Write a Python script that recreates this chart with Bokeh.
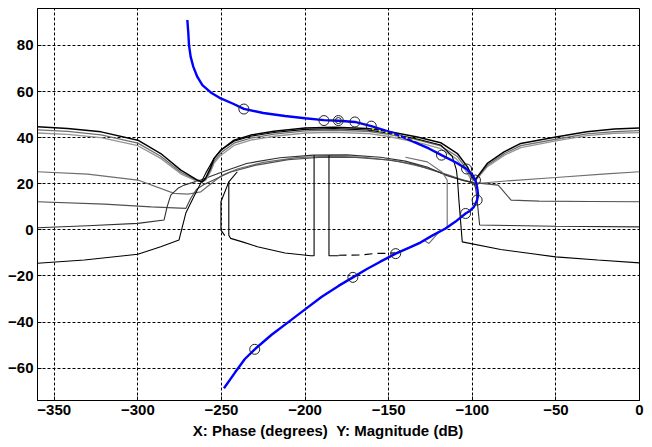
from bokeh.plotting import figure
from bokeh.embed import file_html
from bokeh.resources import INLINE
from bokeh.models import FixedTicker

# ---------------- data (phase deg, magnitude dB) ----------------
x_ticks = [-350, -300, -250, -200, -150, -100, -50, 0]
y_ticks = [-60, -40, -20, 0, 20, 40, 60, 80]

# nominal loop L0 (blue)
loop_phase = [-270.4, -269.8, -269.4, -268.4, -266.8, -264.4, -261.4, -256.4, -250.4, -243.0,
              -236.6, -225.0, -212.0, -200.0, -188.8, -180.0, -170.2, -160.4, -146.6, -135.0,
              -126.0, -118.4, -110.0, -103.4, -100.0, -98.1, -97.0, -96.5, -97.1, -99.0,
              -101.5, -104.0, -110.0, -116.0, -124.0, -131.0, -138.0, -145.8, -155.0, -163.0,
              -171.4, -180.0, -190.0, -200.0, -210.0, -220.0, -230.1, -236.0, -242.0, -248.5]
loop_mag = [91.0, 85.2, 80.1, 75.0, 70.7, 66.3, 62.8, 59.6, 57.0, 54.7,
            52.5, 50.7, 49.4, 48.4, 47.6, 47.3, 46.8, 45.0, 41.8, 38.2,
            35.3, 32.4, 29.3, 26.4, 24.0, 21.6, 18.0, 15.0, 12.9, 10.0,
            8.2, 7.1, 3.6, 0.6, -2.5, -5.5, -7.8, -10.3, -13.8, -17.0,
            -20.6, -24.3, -29.0, -34.5, -40.0, -45.5, -51.8, -56.0, -62.0, -68.7]

# design frequency points on L0 (open circles)
pt_phase = [-236.6, -188.7, -180.1, -180.1, -170.2, -160.4, -118.4, -103.4, -98.1, -97.1, -104.0, -145.8, -171.4, -230.1]
pt_mag = [52.4, 47.4, 47.4, 47.4, 46.8, 45.0, 32.4, 26.4, 21.6, 12.9, 7.1, -10.3, -20.6, -51.8]
pt_size = [10, 10, 10, 6, 10, 10, 10, 10, 10, 10, 10, 10, 10, 10]

# QFT bounds
bA1_phase = [-360, -342, -322, -300, -286.3, -274.3, -264.4, -261.5, -259.4, -256.5, -254.4, -250.3,
             -242.5, -232.5, -218.6, -200, -182.7, -162.7, -150.8, -132.9, -118.9, -108.9, -102.9,
             -100, -98.5, -97, -91, -81, -71, -50, -31.5, -15, 0]
bA1_mag = [44.7, 44.0, 42.5, 38.9, 33.1, 25.9, 21.6, 20.8, 22.5, 27.0, 31.0, 34.6,
           38.9, 41.1, 42.8, 44.2, 44.5, 44.0, 42.8, 40.3, 37.8, 33.1, 27.3,
           23.0, 21.5, 23.0, 28.8, 33.8, 37.5, 40.3, 42.5, 43.7, 44.2]

bA2_phase = [-360, -342, -322, -300, -286.3, -274.3, -264.4, -261.5, -259.4, -256.5, -254.4, -250.3,
             -242.5, -232.5, -218.6, -200, -182.7, -162.7, -150.8, -132.9, -118.9, -108.9, -103.5,
             -100.5, -98.5, -97, -91, -81, -71, -50, -31.5, -15, 0]
bA2_mag = [43.4, 42.7, 41.2, 37.6, 31.9, 25.0, 21.3, 20.8, 22.0, 26.0, 29.8, 33.4,
           37.6, 39.8, 41.5, 42.9, 43.2, 42.7, 41.5, 39.0, 36.4, 31.8, 26.6,
           22.6, 21.3, 22.6, 28.0, 33.0, 36.5, 39.3, 41.6, 42.6, 43.0]

bA3_phase = [-360, -342, -322, -300, -286.3, -274.3, -264.4, -261.5, -259.4, -256.5, -254.4, -250.3,
             -242.5, -232.5, -218.6, -200, -182.7, -162.7, -150.8, -132.9, -118.9, -109.5, -104,
             -101, -98.5, -97, -91, -81, -71, -50, -31.5, -15, 0]
bA3_mag = [42.0, 41.4, 40.0, 36.5, 31.0, 24.3, 21.0, 20.8, 21.6, 25.2, 29.0, 32.4,
           36.6, 38.9, 40.6, 42.0, 42.3, 41.8, 40.6, 38.0, 35.2, 30.8, 25.8,
           22.2, 21.2, 22.2, 27.4, 32.3, 35.7, 38.6, 40.9, 41.9, 42.2]

bE_phase = [-360, -332, -300, -286.3, -275.4, -271.3, -266.6, -259.4, -254.4, -250.3, -242.5, -232.5,
            -218.6, -200, -182.7, -162.7, -150.8, -132.9, -118.9, -112, -109.5, -108.8, -108, -106,
            -83, -50.2, -25, 0]
bE_mag = [-14.5, -13.1, -10.6, -7.3, -4.4, 7.3, 14.3, 24.6, 31.0, 34.6, 38.4, 40.6,
          42.2, 43.6, 43.9, 43.3, 42.0, 39.4, 36.8, 32.0, 26.0, 21.6, 12.9, -5.2,
          -8.5, -11.7, -13.1, -14.3]

bB_phase = [-360, -330, -300, -278.3, -270, -262.3, -258, -250, -240, -225, -205, -185, -165, -145,
            -128, -115, -105, -99, -80, -50, -20, 0]
bB_mag = [25.2, 24.2, 21.6, 15.8, 15.5, 16.5, 19.0, 23.5, 26.5, 29.3, 31.3, 32.0, 31.5, 29.8,
          27.0, 24.0, 21.5, 20.0, 21.2, 22.7, 24.3, 25.2]

bC_phase = [-360, -320, -292, -271.3, -268.5, -265, -261, -255, -245, -230, -210, -190, -170, -150,
            -135, -120, -108, -99, -84.5, -76.8, -60, -30, 0]
bC_mag = [12.2, 11.2, 10.0, 9.3, 13.5, 17.5, 19.5, 21.5, 25.0, 28.0, 30.5, 31.5, 31.4, 30.3,
          28.5, 25.0, 22.0, 20.5, 19.4, 12.9, 12.5, 12.3, 12.2]

bD_phase = [-360, -330, -300, -284.3, -282.5, -280.3, -276, -272.4, -262.4, -250, -235, -215, -195,
            -175, -155, -140, -127, -115, -105, -99, -98, -97.1, -95.6, -50, 0]
bD_mag = [0.9, 1.8, 2.8, 4.3, 10.0, 15.1, 18.0, 19.4, 21.6, 25.0, 28.8, 31.3, 32.4,
          32.5, 31.5, 29.8, 27.3, 23.5, 21.3, 20.5, 18.0, 12.9, 2.1, 1.6, 1.3]

# inner bound pieces
bF1_phase = [-240.5, -245.6, -245.6, -244.5, -237.5, -228.5, -212, -196.6, -194.6, -194.6]
bF1_mag = [25.2, 20.8, -2.3, -3.7, -5.2, -7.3, -10.0, -11.2, -11.2, 32.4]
bF2_phase = [-185.7, -185.7, -180.0]
bF2_mag = [32.4, -11.2, -11.2]
bF3_phase = [-180.0, -166.8, -157.8, -152.8, -146.0]
bF3_mag = [-11.0, -10.9, -10.2, -10.2, -10.0]
bF4_phase = [-146.0, -137.0, -129.0, -125.9, -120.0, -115.0, -115.0, -118.0, -126.9, -140.0]
bF4_mag = [-10.0, -7.5, -4.5, -5.9, -1.0, 1.3, 21.6, 25.0, 29.5, 31.5]
bF5_phase = [-248.0, -250.3, -250.3, -245.6]
bF5_mag = [-2.5, -0.1, 12.2, 20.8]

# yellow highlight segments
yl_phase = [-160.0, -150.0, -140.0, -128.0]
yl_mag = [43.8, 42.0, 40.0, 37.5]

# ---------------- figure ----------------
p = figure(width=652, height=447, x_range=(-360, 0), y_range=(-74, 96),
           output_backend="svg", toolbar_location=None,
           min_border_left=37, min_border_right=13, min_border_top=8, min_border_bottom=47)

p.background_fill_color = "white"
p.border_fill_color = "white"
p.outline_line_color = "black"
p.outline_line_width = 1

for g in (p.xgrid, p.ygrid):
    g.grid_line_color = "black"
    g.grid_line_dash = "3 2"
    g.grid_line_width = 1
    g.grid_line_alpha = 1.0

p.xaxis.ticker = FixedTicker(ticks=x_ticks)
p.yaxis.ticker = FixedTicker(ticks=y_ticks)
for ax in (p.xaxis, p.yaxis):
    ax.axis_line_color = "black"
    ax.major_tick_in = 4
    ax.major_tick_out = 0
    ax.minor_tick_line_color = None
    ax.major_label_text_font = "Liberation Sans"
    ax.major_label_text_font_style = "bold"
    ax.major_label_text_font_size = "15px"
    ax.major_label_text_color = "black"
    ax.major_label_standoff = 4

p.xaxis.axis_label = "X: Phase (degrees)\u00a0\u00a0Y: Magnitude (dB)" + "\u00a0" * 5
p.xaxis.axis_label_text_font = "Liberation Sans"
p.xaxis.axis_label_text_font_style = "bold"
p.xaxis.axis_label_text_font_size = "15px"
p.xaxis.axis_label_text_color = "black"
p.xaxis.axis_label_standoff = 4

gray1 = "#6e6e6e"
gray2 = "#959595"

# bounds
p.line(bB_phase, bB_mag, line_color=gray1, line_width=1.2)
p.line(bC_phase, bC_mag, line_color="#505050", line_width=1.2)
p.line(bD_phase, bD_mag, line_color="#303030", line_width=1.1)
p.line(bA3_phase, bA3_mag, line_color=gray2, line_width=1.3)
p.line(bA2_phase, bA2_mag, line_color=gray1, line_width=1.3)
p.line(bE_phase, bE_mag, line_color="black", line_width=1.1)
p.line(bA1_phase, bA1_mag, line_color="black", line_width=1.5)
p.line(bF1_phase, bF1_mag, line_color="black", line_width=1.1)
p.line(bF2_phase, bF2_mag, line_color="black", line_width=1.1)
p.line(bF3_phase, bF3_mag, line_color="black", line_width=1.1, line_dash="8 5")
p.line(bF4_phase, bF4_mag, line_color=gray1, line_width=1.1)
p.line(bF5_phase, bF5_mag, line_color="black", line_width=1.1)

# loop
p.line(loop_phase, loop_mag, line_color="#0000ff", line_width=2.4)
p.line(yl_phase, yl_mag, line_color="#ffff00", line_width=1.5, line_dash="2 5")
p.scatter(pt_phase, pt_mag, size=pt_size, marker="circle", fill_color=None,
          line_color="#202020", line_width=1)

open("out.html", "w").write(file_html(p, INLINE))
